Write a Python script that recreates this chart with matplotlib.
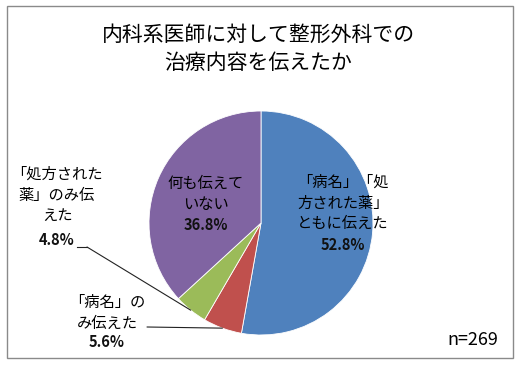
import numpy as np
import matplotlib
matplotlib.use("Agg")
import matplotlib.pyplot as plt
from matplotlib.lines import Line2D
from matplotlib.patches import Rectangle

plt.rcParams['font.family'] = ['Noto Sans CJK JP', 'DejaVu Sans']

# ---- data ----
title = "内科系医師に対して整形外科での\n治療内容を伝えたか"
categories = ["「病名」「処\n方された薬」\nともに伝えた",
              "「病名」の\nみ伝えた",
              "「処方された\n薬」のみ伝\nえた",
              "何も伝えて\nいない"]
values = [52.8, 5.6, 4.8, 36.8]
colors = ["#4F81BD", "#C0504D", "#9BBB59", "#8064A2"]
n_label = "n=269"

W, H = 522, 374
fig = plt.figure(figsize=(W / 100, H / 100), dpi=100)

def fx(x):
    return x / W

def fy(y):
    return 1 - y / H

# outer border
fig.add_artist(Rectangle((fx(7), fy(358)), fx(513) - fx(7), fy(6) - fy(358),
                         transform=fig.transFigure, fill=False,
                         edgecolor="#8a8a8a", linewidth=1.0))

# pie axes: center (261,223) px, radius 112 px
cx, cy, r = 261, 223, 112
ax = fig.add_axes([fx(cx - r), fy(cy + r), 2 * r / W, 2 * r / H])
wedges, _ = ax.pie(values, colors=colors, startangle=90, counterclock=False,
                   radius=1.0, wedgeprops=dict(edgecolor="white", linewidth=0.6))
ax.set_xlim(-1, 1)
ax.set_ylim(-1, 1)
ax.set_aspect('auto')
ax.axis('off')

# title
fig.text(fx(258), fy(49), title, ha='center', va='center', fontsize=15,
         linespacing=1.4, color="#000000")

# label positions (px) : name block center, pct line
label_pos = [(343, 203, 245), (107, 313, 342), (57, 195, 240), (206, 194, 225)]
name_fs = 11
for (lx, ly, py), cat, v in zip(label_pos, categories, values):
    fig.text(fx(lx), fy(ly), cat, ha='center', va='center', fontsize=name_fs,
             linespacing=1.3, color="#000000")
    fig.text(fx(lx), fy(py), f"{v}%", ha='center', va='center', fontsize=10.5,
             fontweight='bold', color="#111111")

# leader lines computed from wedge mid angles
def wedge_mid(i):
    w = wedges[i]
    ang = np.deg2rad((w.theta1 + w.theta2) / 2)
    return np.cos(ang), np.sin(ang)

# red slice leader
ax.annotate("", xy=wedge_mid(1), xycoords='data',
            xytext=(147, H - 327), textcoords='figure pixels',
            arrowprops=dict(arrowstyle='-', color="#222222", lw=0.8,
                            shrinkA=0, shrinkB=0))
# green slice leader
fig.add_artist(Line2D([fx(77), fx(87)], [fy(247), fy(247)],
                      transform=fig.transFigure, color="#222222", lw=0.8))
ax.annotate("", xy=wedge_mid(2), xycoords='data',
            xytext=(87, H - 247), textcoords='figure pixels',
            arrowprops=dict(arrowstyle='-', color="#222222", lw=0.8,
                            shrinkA=0, shrinkB=0))

fig.text(fx(473), fy(340), n_label, ha='center', va='center', fontsize=13,
         color="#000000")

fig.savefig("out.png", dpi=100)
